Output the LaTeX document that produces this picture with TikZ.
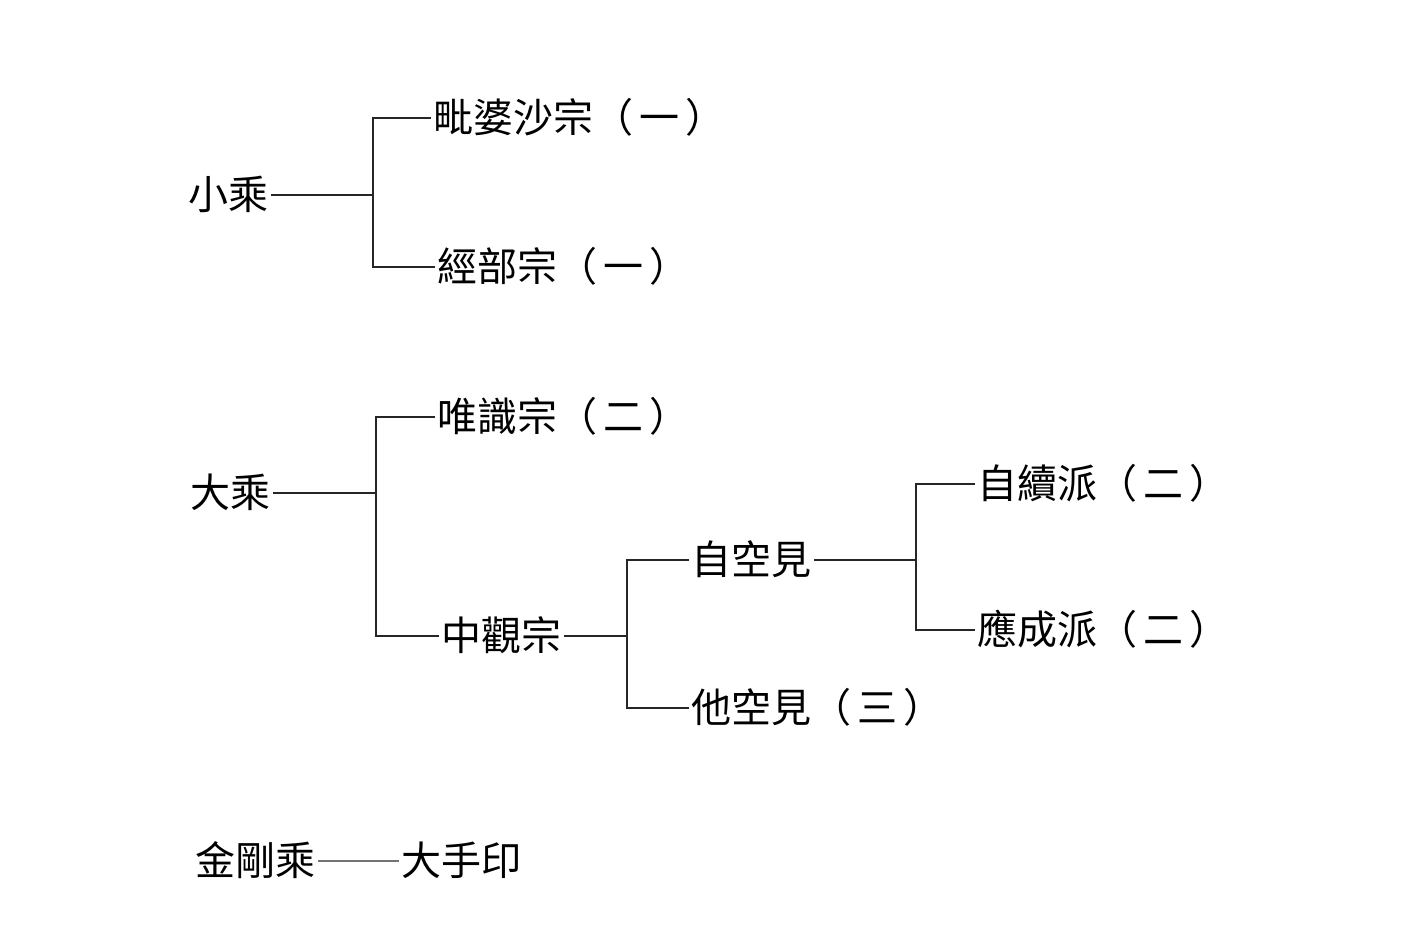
\documentclass[tikz,border=0pt]{standalone}
\usepackage{fontspec}
\newfontfamily\cjk{Noto Sans CJK TC}
\newcommand{\pnum}[1]{（\hspace{3pt}#1\hspace{3pt}）}
\begin{document}
\begin{tikzpicture}[x=0.5pt,y=-0.5pt,
  lbl/.style={anchor=west,inner sep=1pt,font=\cjk\fontsize{20pt}{20pt}\selectfont,text height=17pt,text depth=3pt},
  conn/.style={line width=1.4pt,black!85}]
\fill[white] (0,0) rectangle (1416,948);
\useasboundingbox (0,0) rectangle (1416,948);
% nodes
\node[lbl] (xiao) at (186,195) {小乘};
\node[lbl] (pi) at (431,118) {毗婆沙宗\pnum{一}};
\node[lbl] (jing) at (435,267) {經部宗\pnum{一}};
\node[lbl] (da) at (188,493) {大乘};
\node[lbl] (wei) at (435,417) {唯識宗\pnum{二}};
\node[lbl] (zhong) at (439,636) {中觀宗};
\node[lbl] (zikong) at (689,560) {自空見};
\node[lbl] (zixu) at (975,484) {自續派\pnum{二}};
\node[lbl] (ying) at (975,630) {應成派\pnum{二}};
\node[lbl] (takong) at (689,708) {他空見\pnum{三}};
\node[lbl] (jin) at (193,861) {金剛乘};
\node[lbl] (mahamudra) at (399,861) {大手印};
% junctions
\coordinate (b1) at (373,195);
\coordinate (b2) at (376,493);
\coordinate (b3) at (627,636);
\coordinate (b4) at (916,560);
% connectors
\draw[conn] (xiao.east) -- (b1);
\draw[conn] (pi.west) -| (b1);
\draw[conn] (jing.west) -| (b1);
\draw[conn] (da.east) -- (b2);
\draw[conn] (wei.west) -| (b2);
\draw[conn] (zhong.west) -| (b2);
\draw[conn] (zhong.east) -- (b3);
\draw[conn] (zikong.west) -| (b3);
\draw[conn] (takong.west) -| (b3);
\draw[conn] (zikong.east) -- (b4);
\draw[conn] (zixu.west) -| (b4);
\draw[conn] (ying.west) -| (b4);
\draw[line width=0.8pt,black!55] (jin.east) -- (mahamudra.west);
\end{tikzpicture}
\end{document}
